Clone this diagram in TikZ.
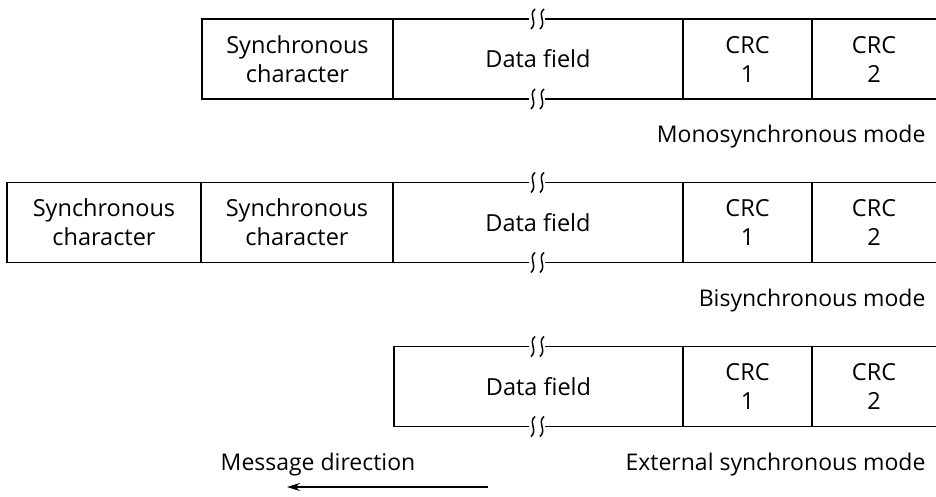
\documentclass[tikz,border=0pt]{standalone}
\usepackage{fontspec}
\setmainfont{Open Sans}
\usetikzlibrary{positioning,arrows.meta}

\newcommand{\brkmark}[1]{%
\begin{scope}[shift={(#1)}]
\fill[white] (-9,-12) rectangle (7,12);
\draw[line width=1.5pt] (-3,-10) .. controls (-10,-5) and (0,4) .. (-7,10);
\draw[line width=1.5pt] (6,-10) .. controls (-1,-5) and (9,4) .. (2,10);
\end{scope}}

\tikzset{
field/.style={draw, line width=1.4pt, minimum height=80pt, inner sep=0pt, outer sep=0pt,
  align=center, font=\fontsize{23.5}{29}\selectfont},
modetext/.style={anchor=east, font=\fontsize{23}{29}\selectfont},
}

\begin{document}
\begin{tikzpicture}[x=1pt,y=-1pt]
\useasboundingbox (0,0) rectangle (936,496);

\node[field, minimum width=191pt] (sa) at (297.5,59) {Synchronous\\character};
\node[field, minimum width=290pt, right=0pt of sa] (da) {Data field};
\node[field, minimum width=129pt, right=0pt of da] (ca) {CRC\\1};
\node[field, draw=none, minimum width=124pt, right=0pt of ca] (cb) {CRC\\2};
\draw[line width=1.4pt] (cb.north west) -- (cb.north east) (cb.south west) -- (cb.south east);
\brkmark{538,19}
\brkmark{538,99}
\node[modetext] (ma) at (929,137) {Monosynchronous mode};

\node[field, minimum width=194pt] (sb) at (104,222.5) {Synchronous\\character};
\node[field, minimum width=192pt, right=0pt of sb] (sc) {Synchronous\\character};
\node[field, minimum width=290pt, right=0pt of sc] (db) {Data field};
\node[field, minimum width=129pt, right=0pt of db] (cc) {CRC\\1};
\node[field, draw=none, minimum width=124pt, right=0pt of cc] (cd) {CRC\\2};
\draw[line width=1.4pt] (cd.north west) -- (cd.north east) (cd.south west) -- (cd.south east);
\brkmark{538,182.5}
\brkmark{538,262.5}
\node[modetext] (mb) at (929,301) {Bisynchronous mode};

\node[field, minimum width=289pt] (dc) at (538.5,386.5) {Data field};
\node[field, minimum width=129pt, right=0pt of dc] (ce) {CRC\\1};
\node[field, draw=none, minimum width=124pt, right=0pt of ce] (cf) {CRC\\2};
\draw[line width=1.4pt] (cf.north west) -- (cf.north east) (cf.south west) -- (cf.south east);
\brkmark{538,346.5}
\brkmark{538,426.5}
\node[modetext] (mc) at (929,465) {External synchronous mode};

\node[font=\fontsize{23}{29}\selectfont] (md) at (318,465) {Message direction};
\coordinate (ar) at (488,487);
\coordinate (al) at (287,487);
\draw[line width=1.4pt, -{Stealth[length=13pt,width=8pt]}] (ar) -- (al);

\end{tikzpicture}
\end{document}
